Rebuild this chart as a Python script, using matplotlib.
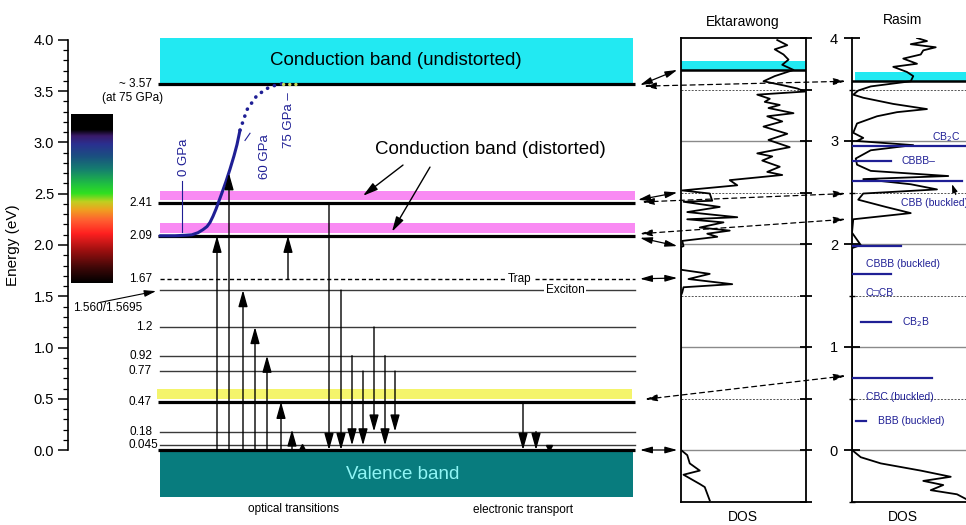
import matplotlib
matplotlib.use('Agg')
import matplotlib.pyplot as plt
import numpy as np
from matplotlib.patches import Rectangle, ConnectionPatch
from matplotlib.colors import LinearSegmentedColormap

plt.rcParams['font.family'] = ['Liberation Sans', 'DejaVu Sans']

# ---------------- data ----------------
# energy levels (eV) of the main diagram
thick_levels = [3.57, 2.41, 2.09, 0.47, 0.0]
thin_levels = [1.56, 1.2, 0.92, 0.77, 0.18, 0.045]
trap_level = 1.67
level_label_values = [2.41, 2.09, 1.67, 1.2, 0.92, 0.77, 0.47, 0.18]
level_label_texts = ['2.41', '2.09', '1.67', '1.2', '0.92', '0.77', '0.47', '0.18']

# bands (bottom, top) in eV
cb_undistorted = (3.57, 4.02)
cb_distorted_hi = (2.44, 2.53)
cb_distorted_lo = (2.12, 2.21)
yellow_band = (0.50, 0.595)
valence_band = (-0.46, 0.0)

# pressure-dependent gap curve
curve_x = [160, 175, 185, 192, 198, 203, 207, 210, 213, 216, 219, 222, 226, 230, 234, 237, 240]
curve_e = [2.09, 2.09, 2.095, 2.10, 2.12, 2.15, 2.18, 2.22, 2.28, 2.35, 2.43, 2.51, 2.62, 2.74, 2.87, 2.98, 3.12]
dots_x = [240, 247, 257, 270, 283]
dots_e = [3.12, 3.32, 3.46, 3.545, 3.575]
ydots_x = [283, 296]
ydots_e = [3.575, 3.575]

# optical / transport transitions: x position, start energy, end energy
up_x = [217, 229, 243, 255, 267, 281, 292, 288]
up_from = [0.0, 0.0, 0.0, 0.0, 0.0, 0.0, 0.0, 1.67]
up_to = [2.09, 2.70, 1.56, 1.2, 0.92, 0.47, 0.20, 2.09]
down_x = [329, 341, 352, 363, 374, 385, 395, 523, 536]
down_from = [2.41, 1.56, 0.92, 0.77, 1.2, 0.92, 0.77, 0.47, 0.18]
down_to = [0.0, 0.0, 0.045, 0.045, 0.18, 0.045, 0.18, 0.0, 0.0]
tiny_up_x, tiny_up_e = [302], [0.03]
tiny_down_x, tiny_down_e = [549], [0.02]

# visible spectrum colour bar (energy -> colour)
spec_e = [1.63, 1.78, 1.95, 2.11, 2.24, 2.34, 2.42, 2.50, 2.59, 2.73, 2.86, 2.98, 3.06, 3.12, 3.27]
spec_c = ['#000000', '#400808', '#a01010', '#ff2020', '#ff6030', '#f0a020', '#c0d020', '#30e020',
          '#20c040', '#15806e', '#1a5080', '#2a3090', '#3a1a6a', '#000000', '#000000']

# Ektarawong DOS
ekt_e = [3.98, 3.93, 3.89, 3.84, 3.79, 3.74, 3.69, 3.63, 3.58, 3.54, 3.51, 3.48, 3.45, 3.41, 3.38, 3.35,
         3.32, 3.27, 3.24, 3.19, 3.14, 3.07, 3.01, 2.94, 2.88, 2.85, 2.81, 2.75, 2.70, 2.67, 2.62, 2.57,
         2.52, 2.49, 2.42, 2.41, 2.36, 2.31, 2.26, 2.24, 2.21, 2.16, 2.13, 2.10, 2.07, 2.03, 1.98, 1.97,
         1.75, 1.71, 1.66, 1.61, 1.58, 1.53, 1.50, 0.0, -0.05, -0.13, -0.20, -0.24, -0.33, -0.36, -0.49]
ekt_dos = [0.77, 0.85, 0.75, 0.82, 0.86, 0.81, 0.90, 0.75, 0.66, 0.82, 0.93, 0.99, 0.61, 0.71, 0.67, 0.79,
           0.70, 0.90, 0.69, 0.81, 0.66, 0.85, 0.70, 0.87, 0.61, 0.73, 0.65, 0.79, 0.69, 0.81, 0.39, 0.45,
           0.01, 0.23, 0.25, 0.02, 0.31, 0.05, 0.45, 0.05, 0.34, 0.15, 0.39, 0.21, 0.29, 0.01, 0.02, 0.0,
           0.0, 0.23, 0.06, 0.41, 0.02, 0.01, 0.0, 0.0, 0.05, 0.07, 0.15, 0.02, 0.15, 0.19, 0.23]
ekt_cyan = (3.69, 3.78)

# Rasim DOS
ras_e = [4.00, 3.97, 3.94, 3.91, 3.88, 3.84, 3.80, 3.75, 3.72, 3.67, 3.63, 3.58, 3.53, 3.49, 3.45, 3.42,
         3.36, 3.31, 3.28, 3.24, 3.17, 3.08, 3.03, 3.00, 2.96, 2.91, 2.83, 2.77, 2.71, 2.66, 2.63, 2.58,
         2.53, 2.49, 2.43, 2.36, 2.30, 2.24, 2.11, 1.99, 1.96, 0.0, -0.07, -0.13, -0.20, -0.26, -0.30,
         -0.34, -0.39, -0.43, -0.50]
ras_dos = [0.52, 0.60, 0.47, 0.67, 0.57, 0.55, 0.41, 0.52, 0.33, 0.44, 0.49, 0.47, 0.15, 0.05, 0.01, 0.09,
           0.33, 0.60, 0.36, 0.20, 0.04, 0.01, 0.09, 0.04, 0.49, 0.15, 0.03, 0.04, 0.15, 0.77, 0.09, 0.47,
           0.68, 0.09, 0.05, 0.27, 0.47, 0.01, 0.0, 0.07, 0.0, 0.0, 0.07, 0.23, 0.55, 0.79, 0.57,
           0.73, 0.63, 0.84, 0.95]
ras_cyan = (3.58, 3.67)
ras_levels_e = [2.95, 2.81, 2.61, 1.98, 1.71, 1.24, 0.70, 0.28]
ras_levels_x0 = [0.0, 0.0, 0.0, 0.0, 0.0, 0.07, 0.0, 0.03]
ras_levels_x1 = [1.1, 0.31, 0.88, 0.39, 0.31, 0.31, 0.64, 0.11]
ras_labels = ['CB$_2$C', 'CBBB\u2013', 'CBB (buckled)', 'CBBB (buckled)', 'C\u25a1CB', 'CB$_2$B',
              'CBC (buckled)', 'BBB (buckled)']
ras_label_x = [0.64, 0.40, 0.39, 0.11, 0.11, 0.40, 0.11, 0.21]
ras_label_e = [3.04, 2.81, 2.40, 1.81, 1.52, 1.24, 0.51, 0.28]

# ---------------- figure ----------------
W, H = 966, 525
fig = plt.figure(figsize=(W / 100, H / 100), dpi=100)
fig.patch.set_facecolor('white')

NAVY = '#1f1f95'

def px_to_e(p):
    return (450 - p) / 102.5

ytop = px_to_e(29.75)
ybot = px_to_e(525)
ax = fig.add_axes([68 / W, 0, (645 - 68) / W, (525 - 29.75) / H])
ax.set_xlim(68, 645)
ax.set_ylim(ybot, ytop)
for s in ['top', 'right', 'bottom']:
    ax.spines[s].set_visible(False)
ax.spines['left'].set_bounds(0, 4)
ax.spines['left'].set_linewidth(1.2)
ax.set_xticks([])
ax.set_yticks(np.arange(0, 4.01, 0.5))
ax.set_yticks(np.arange(0, 4.01, 0.1), minor=True)
ax.yaxis.set_major_formatter(matplotlib.ticker.FormatStrFormatter('%.1f'))
ax.tick_params(axis='y', which='major', length=7, width=1.1, labelsize=10.5, pad=3)
ax.tick_params(axis='y', which='minor', length=3.5, width=0.9)
ax.set_ylabel('Energy (eV)', fontsize=11)
ax.yaxis.set_label_coords((20 - 68) / 577, (2.0 - ybot) / (ytop - ybot))

X0, X1 = 160, 635
# bands
ax.add_patch(Rectangle((X0, cb_undistorted[0]), X1 - X0 - 2, cb_undistorted[1] - cb_undistorted[0],
                       facecolor='#22e9f2', edgecolor='none', zorder=1))
for b in (cb_distorted_hi, cb_distorted_lo):
    ax.add_patch(Rectangle((X0, b[0]), X1 - X0, b[1] - b[0], facecolor='#f98af3', edgecolor='none', zorder=1))
ax.add_patch(Rectangle((157, yellow_band[0]), X1 - 160, yellow_band[1] - yellow_band[0],
                       facecolor='#f4f46c', edgecolor='none', zorder=1))
ax.add_patch(Rectangle((X0, valence_band[0]), X1 - X0 - 2, valence_band[1] - valence_band[0],
                       facecolor='#087c7e', edgecolor='none', zorder=1))

ax.text(396, 3.80, 'Conduction band (undistorted)', ha='center', va='center', fontsize=13.5, zorder=5)
ax.text(403, -0.24, 'Valence band', ha='center', va='center', fontsize=13.5, color='#8ff5f5', zorder=5)
ax.text(490, 2.93, 'Conduction band (distorted)', ha='center', va='center', fontsize=13.5, zorder=5)
ax.text(293, -0.575, 'optical transitions', ha='center', va='center', fontsize=8.5)
ax.text(523, -0.59, 'electronic transport', ha='center', va='center', fontsize=8.5)

# level lines
for e in thick_levels:
    ax.plot([158, X1], [e, e], color='black', lw=2.3, zorder=3, solid_capstyle='butt')
for e in thin_levels:
    ax.plot([X0, X1], [e, e], color='#3a3a3a', lw=1.0, zorder=2)
ax.plot([X0, X1], [trap_level, trap_level], color='black', lw=1.0, dashes=(3, 2), zorder=2)
ax.text(520, trap_level, 'Trap', ha='center', va='center', fontsize=8.5, zorder=4,
        bbox=dict(facecolor='white', edgecolor='none', pad=1))
ax.text(565, 1.56, 'Exciton', ha='center', va='center', fontsize=8.5, zorder=4,
        bbox=dict(facecolor='white', edgecolor='none', pad=1))

for v, t in zip(level_label_values, level_label_texts):
    ax.text(152, v, t, ha='right', va='center', fontsize=8.5)
ax.text(158, 0.05, '0.045', ha='right', va='center', fontsize=8.5)
ax.text(152, 3.57, '~ 3.57', ha='right', va='center', fontsize=8.5)
ax.text(133, 3.43, '(at 75 GPa)', ha='center', va='center', fontsize=8.5)
ax.text(73, 1.39, '1.560/1.5695', ha='left', va='center', fontsize=8.5)
ax.annotate('', xy=(156, 1.55), xytext=(100, 1.44),
            arrowprops=dict(arrowstyle='-|>,head_length=0.7,head_width=0.2', mutation_scale=10,
                            lw=0.8, color='black', shrinkA=0, shrinkB=0))

# spectrum bar
cmap = LinearSegmentedColormap.from_list(
    'spec', [((e - spec_e[0]) / (spec_e[-1] - spec_e[0]), c) for e, c in zip(spec_e, spec_c)])
grad = np.linspace(0, 1, 256).reshape(-1, 1)
ax.imshow(grad, extent=[71, 113, spec_e[0], spec_e[-1]], origin='lower', aspect='auto', cmap=cmap, zorder=2)

# gap curve
ax.plot(curve_x, curve_e, color=NAVY, lw=2.2, zorder=6, solid_capstyle='round')
ax.plot(dots_x, dots_e, color=NAVY, lw=2.6, linestyle=(0, (0.05, 2.0)), dash_capstyle='round', zorder=6)
ax.plot(ydots_x, ydots_e, color='#c8d85a', lw=2.4, linestyle=(0, (0.05, 1.8)), dash_capstyle='round', zorder=6)
ax.plot([182, 182], [2.13, 2.62], color=NAVY, lw=0.8, zorder=6)
ax.text(184, 2.86, '0 GPa', rotation=90, ha='center', va='center', fontsize=9.5, color=NAVY)
ax.plot([245, 250], [3.02, 3.09], color=NAVY, lw=0.8)
ax.text(265, 2.86, '60 GPa', rotation=90, ha='center', va='center', fontsize=9.5, color=NAVY)
ax.text(289, 3.22, '75 GPa \u2013', rotation=90, ha='center', va='center', fontsize=9.5, color=NAVY)

# distorted band pointers
for (xs, es), (xe, ee) in [((403, 2.78), (363, 2.48)), ((430, 2.76), (392, 2.13))]:
    ax.annotate('', xy=(xe, ee), xytext=(xs, es),
                arrowprops=dict(arrowstyle='-|>,head_length=0.9,head_width=0.25', mutation_scale=10,
                                lw=1.0, color='black', shrinkA=0, shrinkB=0), zorder=7)

# transitions
aprops = dict(arrowstyle='-|>,head_length=1.0,head_width=0.28', mutation_scale=10,
              lw=1.0, color='black', shrinkA=0, shrinkB=0)
for x, e0, e1 in zip(up_x, up_from, up_to):
    ax.annotate('', xy=(x, e1), xytext=(x, e0), arrowprops=aprops, zorder=7)
for x, e0, e1 in zip(down_x, down_from, down_to):
    ax.annotate('', xy=(x, e1), xytext=(x, e0), arrowprops=aprops, zorder=7)
ax.plot(tiny_up_x, tiny_up_e, marker='^', color='black', ms=5, ls='none', zorder=7)
ax.plot(tiny_down_x, tiny_down_e, marker='v', color='black', ms=5, ls='none', zorder=7)

# ---------------- Ektarawong panel ----------------
def panel_axes(x0, x1):
    top_px, bot_px = 38, 450 + 0.5 * 103
    return fig.add_axes([x0 / W, (H - bot_px) / H, (x1 - x0) / W, (bot_px - top_px) / H])

axe = panel_axes(681, 806)
axe.set_xlim(0, 1)
axe.set_ylim(-0.5, 4.0)
axe.set_xticks([])
for s in axe.spines.values():
    s.set_linewidth(1.3)
axe.yaxis.tick_right()
axe.set_yticks(np.arange(-0.5, 4.01, 0.5))
axe.tick_params(axis='y', direction='inout', length=9, width=1.3, labelright=False)
for e in [0, 1, 2, 3]:
    axe.axhline(e, color='#8a8a8a', lw=1.0, zorder=1)
for e in [0.5, 1.5, 2.5, 3.5]:
    axe.axhline(e, color='#555555', lw=0.7, dashes=(2, 1.5), zorder=1)
axe.add_patch(Rectangle((0, ekt_cyan[0]), 1, ekt_cyan[1] - ekt_cyan[0], facecolor='#22e9f2',
                        edgecolor='none', zorder=2))
axe.axhline(ekt_cyan[0], color='black', lw=1.8, zorder=3)
axe.plot(ekt_dos, ekt_e, color='black', lw=1.3, zorder=4)
fig.text(743 / W, 1 - 22 / H, 'Ektarawong', ha='center', va='center', fontsize=10)
fig.text(743 / W, 1 - 517 / H, 'DOS', ha='center', va='center', fontsize=10)

# ---------------- Rasim panel ----------------
axr = panel_axes(852, 977)
axr.set_xlim(0, 1)
axr.set_ylim(-0.5, 4.0)
axr.set_xticks([])
axr.spines['top'].set_visible(False)
axr.spines['right'].set_visible(False)
axr.spines['left'].set_linewidth(1.3)
axr.spines['bottom'].set_linewidth(1.3)
axr.set_yticks([0, 1, 2, 3, 4])
axr.set_yticks([-0.5, 0.5, 1.5, 2.5, 3.5], minor=True)
axr.set_yticklabels(['0', '1', '2', '3', '4'])
axr.tick_params(axis='y', which='major', direction='inout', length=12, width=1.3, labelsize=10.5, pad=4)
axr.tick_params(axis='y', which='minor', direction='inout', length=5, width=1.0)
for e in [0, 1, 2, 3]:
    axr.axhline(e, color='#8a8a8a', lw=1.0, zorder=1)
for e in [0.5, 1.5, 2.5, 3.5]:
    axr.axhline(e, color='#555555', lw=0.7, dashes=(2, 1.5), zorder=1)
axr.add_patch(Rectangle((0.02, ras_cyan[0]), 1, ras_cyan[1] - ras_cyan[0], facecolor='#22e9f2',
                        edgecolor='none', zorder=2))
axr.axhline(ras_cyan[0], color='black', lw=1.8, zorder=3)
axr.plot(ras_dos, ras_e, color='black', lw=1.3, zorder=4)
for e, a, b in zip(ras_levels_e, ras_levels_x0, ras_levels_x1):
    axr.plot([a, b], [e, e], color=NAVY, lw=1.6, zorder=5, clip_on=True)
for t, x, e in zip(ras_labels, ras_label_x, ras_label_e):
    axr.text(x, e, t, ha='left', va='center', fontsize=7.5, color=NAVY, zorder=6)
axr.annotate('', xy=(0.80, 2.58), xytext=(0.83, 2.48),
             arrowprops=dict(arrowstyle='-|>,head_length=0.6,head_width=0.2', mutation_scale=8,
                             lw=0.8, color='black', shrinkA=0, shrinkB=0))
fig.text(903 / W, 1 - 20 / H, 'Rasim', ha='center', va='center', fontsize=10)
fig.text(903 / W, 1 - 517 / H, 'DOS', ha='center', va='center', fontsize=10)

# ---------------- connectors ----------------
solid_links = [((640, 3.56), (-0.03, 3.69)), ((638, 2.44), (-0.03, 2.50)), ((640, 2.07), (-0.03, 1.98)),
               ((640, 1.67), (-0.03, 1.67)), ((640, 0.0), (-0.03, 0.0))]
dashed_links = [((644, 3.55), (-0.05, 3.58)), ((642, 2.42), (-0.05, 2.49)), ((640, 2.11), (-0.05, 2.24)),
                ((645, 0.495), (-0.05, 0.72))]
for a, b in solid_links:
    cp = ConnectionPatch(xyA=a, coordsA=ax.transData, xyB=b, coordsB=axe.transData,
                         arrowstyle='<|-|>,head_length=0.8,head_width=0.22', mutation_scale=9,
                         lw=0.9, color='black', shrinkA=0, shrinkB=0, zorder=10)
    fig.add_artist(cp)
for a, b in dashed_links:
    cp = ConnectionPatch(xyA=a, coordsA=ax.transData, xyB=b, coordsB=axr.transData,
                         arrowstyle='<|-|>,head_length=0.8,head_width=0.22', mutation_scale=9,
                         lw=0.9, color='black', linestyle=(0, (4, 3)), shrinkA=0, shrinkB=0, zorder=10)
    fig.add_artist(cp)

fig.savefig('out.png', dpi=100)
